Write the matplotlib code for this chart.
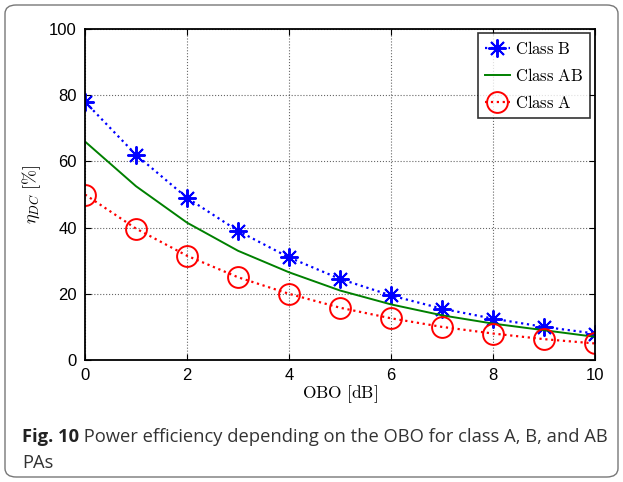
import matplotlib

matplotlib.use("Agg")
import matplotlib.pyplot as plt  # noqa: E402
from matplotlib.patches import FancyBboxPatch  # noqa: E402

# values
obo_db = [0, 1, 2, 3, 4, 5, 6, 7, 8, 9, 10]
eff_class_b = [78, 62, 49, 39, 31, 24.5, 19.5, 15.5, 12.5, 10, 8]
eff_class_ab = [66, 52.5, 41.5, 33, 26.5, 21, 16.8, 13.5, 11, 9, 7]
eff_class_a = [50, 39.7, 31.5, 25, 20, 15.8, 12.6, 10, 8, 6.3, 5]
x_ticks = [0, 2, 4, 6, 8, 10]
y_ticks = [0, 20, 40, 60, 80, 100]

plt.rcParams["mathtext.fontset"] = "cm"
plt.rcParams["font.family"] = ["Liberation Sans", "DejaVu Sans"]

fig = plt.figure(figsize=(6.23, 4.82), dpi=100)
ax = fig.add_axes([85 / 623, 1 - 360 / 482, 510 / 623, 331 / 482])

ax.plot(obo_db, eff_class_b, color="blue", linestyle=":", linewidth=1.6,
        marker=(8, 2, 0), markersize=13, markeredgewidth=1.4,
        label=r"$\mathrm{Class\ B}$")
ax.plot(obo_db, eff_class_ab, color="green", linestyle="-", linewidth=1.4,
        label=r"$\mathrm{Class\ AB}$")
ax.plot(obo_db, eff_class_a, color="red", linestyle=":", linewidth=1.6,
        marker="o", markersize=15, markerfacecolor="none",
        markeredgewidth=1.4, label=r"$\mathrm{Class\ A}$")

ax.set_xlim(0, 10)
ax.set_ylim(0, 100)
ax.set_xticks(x_ticks)
ax.set_yticks(y_ticks)
ax.tick_params(direction="in", top=True, right=True, length=4,
               labelsize=12, pad=6)
ax.grid(True, color="black", linestyle=":", linewidth=0.8, alpha=0.6)
for spine in ax.spines.values():
    spine.set_linewidth(1.3)

ax.set_xlabel(r"$\mathrm{OBO\ [dB]}$", fontsize=12.5, labelpad=0)
ax.set_ylabel(r"$\eta_{DC}\ \mathrm{[\%]}$", fontsize=13, labelpad=4)

leg = ax.legend(loc="upper right", fontsize=12, frameon=True, fancybox=False,
                edgecolor="black", borderpad=0.4, labelspacing=0.62,
                handlelength=1.5, handletextpad=0.3, borderaxespad=0,
                bbox_to_anchor=(0.99, 0.988))
leg.get_frame().set_linewidth(1.2)

# caption below the plot: bold label, then the regular text after it
bold = fig.text(22 / 623, 1 - 437 / 482, "Fig. 10", fontsize=13.2,
                family="Open Sans", fontweight="bold", va="center",
                color="#222222")
ax.annotate(" Power efficiency depending on the OBO for class A, B, and AB",
            xy=(1, 0), xycoords=bold, va="bottom", fontsize=13.2,
            family="Open Sans", color="#333333", annotation_clip=False)
fig.text(22 / 623, 1 - 463 / 482, "PAs", fontsize=13.2, family="Open Sans",
         va="center", color="#333333")

border = FancyBboxPatch((5 / 623, 5 / 482), 613 / 623, 472 / 482,
                        boxstyle="round,pad=0,rounding_size=0.018",
                        transform=fig.transFigure, fill=False,
                        edgecolor="#777777", linewidth=1.0)
fig.patches.append(border)

fig.savefig("out.png", dpi=100)
